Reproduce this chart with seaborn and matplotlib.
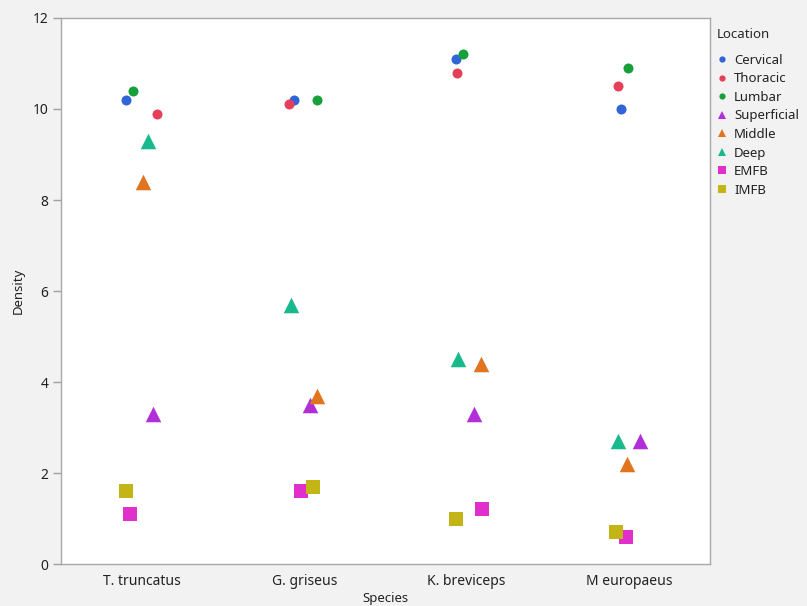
import matplotlib
matplotlib.use("Agg")
import matplotlib.pyplot as plt
from matplotlib.lines import Line2D
import seaborn as sns
import pandas as pd

# Species on the x axis
species = ["T. truncatus", "G. griseus", "K. breviceps", "M europaeus"]

# Locations, in legend order
locations = ["Cervical", "Thoracic", "Lumbar", "Superficial",
             "Middle", "Deep", "EMFB", "IMFB"]

# Density per location, one value per species (same order as `species`)
cervical    = [10.2, 10.2, 11.1, 10.0]
thoracic    = [9.9, 10.1, 10.8, 10.5]
lumbar      = [10.4, 10.2, 11.2, 10.9]
superficial = [3.3, 3.5, 3.3, 2.7]
middle      = [8.4, 3.7, 4.4, 2.2]
deep        = [9.3, 5.7, 4.5, 2.7]
emfb        = [1.1, 1.6, 1.2, 0.6]
imfb        = [1.6, 1.7, 1.0, 0.7]

# Fixed horizontal jitter (category units) so overlapping points stay visible
jitter = {
    "Cervical":    [-0.100, -0.062, -0.065, -0.047],
    "Thoracic":    [0.092, -0.097, -0.061, -0.069],
    "Lumbar":      [-0.054, 0.080, -0.024, -0.007],
    "Superficial": [0.065, 0.035, 0.047, 0.068],
    "Middle":      [0.004, 0.078, 0.087, -0.014],
    "Deep":        [0.034, -0.083, -0.055, -0.069],
    "EMFB":        [-0.075, -0.021, 0.095, -0.020],
    "IMFB":        [-0.100, 0.051, -0.065, -0.078],
}

values = {
    "Cervical": cervical, "Thoracic": thoracic, "Lumbar": lumbar,
    "Superficial": superficial, "Middle": middle, "Deep": deep,
    "EMFB": emfb, "IMFB": imfb,
}

colors = {
    "Cervical": "#2f65d6",
    "Thoracic": "#e5405a",
    "Lumbar": "#17a03a",
    "Superficial": "#b22ed8",
    "Middle": "#e0741f",
    "Deep": "#18b98c",
    "EMFB": "#e02fcb",
    "IMFB": "#c2b515",
}
markers = {
    "Cervical": "o", "Thoracic": "o", "Lumbar": "o",
    "Superficial": "^", "Middle": "^", "Deep": "^",
    "EMFB": "s", "IMFB": "s",
}
marker_area = {"o": 52, "^": 125, "s": 92}

rows = []
for loc in locations:
    for i, sp in enumerate(species):
        rows.append({"Species": sp, "pos": i + jitter[loc][i],
                     "Location": loc, "Density": values[loc][i]})
df = pd.DataFrame(rows)

sns.set_theme(style="white")
plt.rcParams["font.family"] = ["Noto Sans", "DejaVu Sans"]

fig = plt.figure(figsize=(8.07, 6.06), dpi=100, facecolor="#f2f2f2")
ax = fig.add_axes([0.0756, 0.0693, 0.8042, 0.9010])
ax.set_facecolor("white")

for loc in locations:
    sub = df[df["Location"] == loc]
    m = markers[loc]
    sns.scatterplot(data=sub, x="pos", y="Density", ax=ax,
                    color=colors[loc], marker=m, s=marker_area[m],
                    linewidth=0, legend=False, zorder=3)

ax.set_xlim(-0.5, 3.5)
ax.set_ylim(0, 12)
ax.set_xticks(range(len(species)))
ax.set_xticklabels(species)
ax.set_yticks(range(0, 13, 2))
ax.tick_params(axis="x", length=0, pad=7, labelsize=10, labelcolor="#222222")
ax.tick_params(axis="y", length=6, width=1, color="#a0a0a0", pad=3,
               labelsize=10, labelcolor="#222222", left=True)
ax.set_xlabel("Species", fontsize=9.5, color="#222222", labelpad=2)
ax.set_ylabel("Density", fontsize=9.5, color="#222222", labelpad=6)
for sp in ax.spines.values():
    sp.set_color("#a8a8a8")
    sp.set_linewidth(1)

handles = [Line2D([0], [0], marker=markers[loc], linestyle="",
                  markerfacecolor=colors[loc], markeredgewidth=0,
                  markersize={"o": 4.5, "^": 6, "s": 5.2}[markers[loc]],
                  label=loc)
           for loc in locations]
leg = fig.legend(handles=handles, title="Location", loc="upper left",
                 bbox_to_anchor=(0.882, 0.962), frameon=False,
                 fontsize=9.5, title_fontsize=9.5, handlelength=0.8,
                 handletextpad=0.5, labelspacing=0.42, borderaxespad=0)
leg._legend_box.align = "left"
leg._legend_box.sep = 9
for t in leg.get_texts():
    t.set_color("#222222")

fig.savefig("out.png", dpi=100, facecolor=fig.get_facecolor())
